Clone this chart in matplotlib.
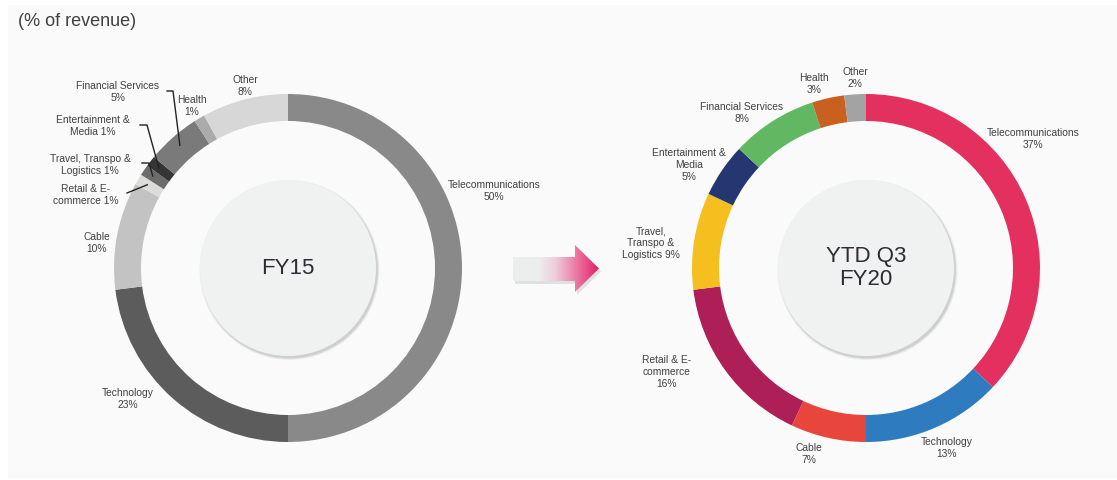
import numpy as np
import matplotlib.pyplot as plt
from matplotlib.patches import Circle, Polygon, Rectangle
from matplotlib.colors import LinearSegmentedColormap

plt.rcParams['font.family'] = ['Liberation Sans', 'DejaVu Sans']

# revenue mix by industry segment, clockwise from 12 o'clock
segments = ['Telecommunications', 'Technology', 'Cable', 'Retail & E-commerce',
            'Travel, Transpo & Logistics', 'Entertainment & Media',
            'Financial Services', 'Health', 'Other']
fy15 = [50, 23, 10, 1, 1, 1, 5, 1, 8]
fy20 = [37, 13, 7, 16, 9, 5, 8, 3, 2]

fy15_labels = ['Telecommunications\n50%', 'Technology\n23%', 'Cable\n10%',
               'Retail & E-\ncommerce 1%', 'Travel, Transpo &\nLogistics 1%',
               'Entertainment &\nMedia 1%', 'Financial Services\n5%',
               'Health\n1%', 'Other\n8%']
fy20_labels = ['Telecommunications\n37%', 'Technology\n13%', 'Cable\n7%',
               'Retail & E-\ncommerce\n16%', 'Travel,\nTranspo &\nLogistics 9%',
               'Entertainment &\nMedia\n5%', 'Financial Services\n8%',
               'Health\n3%', 'Other\n2%']

fy15_colors = ['#898989', '#5c5c5c', '#c2c3c2', '#dcdcd8', '#6c6c6c',
               '#353535', '#7a7a7a', '#ababab', '#d6d7d6']
fy20_colors = ['#e3305f', '#2f7bbf', '#e8463c', '#ae1e57', '#f4bf1f',
               '#253670', '#62b862', '#c9601f', '#a3a3a3']

# layout in pixels (x from left, y from top)
W, H = 1117, 480
R_OUT, RING, R_DISC = 174, 27, 88
left_c = (288, 268)
right_c = (866, 268)
fy15_pos = [(494, 191), (128, 399), (97, 243), (86, 195), (90, 165),
            (93, 126), (118, 92), (192, 106), (245, 86)]
fy20_pos = [(1033, 139), (947, 448), (809, 454), (667, 372), (651, 243),
            (689, 165), (742, 113), (814, 84), (855, 78)]
# leader line starts for the tiny FY15 slices (segment index -> elbow points)
fy15_leaders = {3: [(127, 193)], 4: [(142, 163), (149, 163)],
                5: [(140, 125), (147, 125)], 6: [(167, 91), (173, 91)]}

txt_color = '#404040'


def py(y):
    return H - y


fig = plt.figure(figsize=(W / 100, H / 100), dpi=100)
fig.patch.set_facecolor('white')
ax = fig.add_axes([0, 0, 1, 1])

ax.add_patch(Rectangle((8, py(478)), W - 8, 473, facecolor='#fafafa',
                       edgecolor='none', zorder=0))


def donut(center, values, colors, labels, positions, leaders, title):
    cx, cy = center[0], py(center[1])
    wedges, _ = ax.pie(values, colors=colors, startangle=90, counterclock=False,
                       center=(cx, cy), radius=R_OUT,
                       wedgeprops=dict(width=RING, edgecolor='none', zorder=2))
    for i, (lab, (x, y)) in enumerate(zip(labels, positions)):
        ax.text(x, py(y), lab, ha='center', va='center', fontsize=7.4,
                color=txt_color, linespacing=1.25, zorder=5)
        if i in leaders:
            w = wedges[i]
            mid = np.deg2rad((w.theta1 + w.theta2) / 2)
            r = R_OUT - RING / 2 + 3
            end = (cx + r * np.cos(mid), cy + r * np.sin(mid))
            pts = [(px, py(qy)) for px, qy in leaders[i]] + [end]
            xs, ys = zip(*pts)
            ax.plot(xs, ys, color='#222222', lw=1.0, zorder=6)
    # inner disc with soft shadow
    for k, a in enumerate([0.10, 0.16, 0.25]):
        ax.add_patch(Circle((cx + 1.5, cy - 2), R_DISC + 2 - k * 0.8,
                            facecolor='#9a9a9a', alpha=a, edgecolor='none',
                            zorder=3))
    ax.add_patch(Circle((cx, cy), R_DISC, facecolor='#f0f1f1',
                        edgecolor='none', zorder=4))
    ax.text(cx, cy, title, ha='center', va='center', fontsize=16,
            color='#2f2a33', linespacing=1.15, zorder=5)


donut(left_c, fy15, fy15_colors, fy15_labels, fy15_pos, fy15_leaders, 'FY15')
donut(right_c, fy20, fy20_colors, fy20_labels, fy20_pos, {}, 'YTD Q3\nFY20')

# transition arrow with grey-to-pink gradient
arrow_px = [(513, 257), (575, 257), (575, 245), (599, 268.5), (575, 292),
            (575, 281), (513, 281)]
shadow = Polygon([(x + 2, py(y) - 3) for x, y in arrow_px], closed=True,
                 facecolor='#b0b0b0', alpha=0.35, edgecolor='none', zorder=2)
ax.add_patch(shadow)
arrow = Polygon([(x, py(y)) for x, y in arrow_px], closed=True,
                facecolor='none', edgecolor='none', zorder=3)
ax.add_patch(arrow)
cmap = LinearSegmentedColormap.from_list(
    'arr', [(0, '#eceeee'), (0.3, '#eceeee'), (0.5, '#eecbd8'), (1, '#e61e68')])
grad = np.linspace(0, 1, 256).reshape(1, -1)
img = ax.imshow(grad, cmap=cmap, extent=(513, 599, py(292), py(245)),
                aspect='auto', zorder=3, interpolation='bicubic')
img.set_clip_path(arrow)

ax.text(18, py(22), '(% of revenue)', ha='left', va='center', fontsize=13,
        color='#404040', zorder=5)

ax.set_xlim(0, W)
ax.set_ylim(0, H)
ax.set_aspect('equal')
ax.axis('off')

fig.savefig('out.png', dpi=100, facecolor=fig.get_facecolor())
